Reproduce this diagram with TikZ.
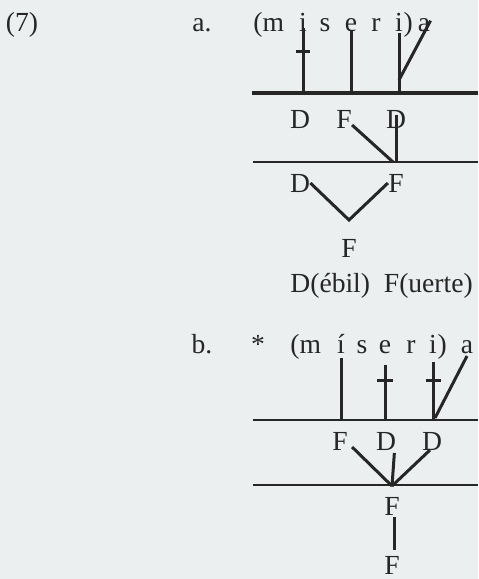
\documentclass[tikz,border=0pt]{standalone}
\usepackage{fontspec}
\setmainfont{Liberation Serif}
\definecolor{pagegray}{RGB}{236,239,239}
\definecolor{ink}{RGB}{38,38,38}
\usetikzlibrary{positioning}

\begin{document}
\begin{tikzpicture}[x=0.5pt,y=-0.5pt,color=ink,
    seg/.style={inner sep=0pt,anchor=base,font=\fontsize{13.8}{16}\selectfont},
    assoc/.style={line width=1.5pt},
    tier/.style={line width=0.9pt}]
  \fill[pagegray] (0,0) rectangle (478,579);
  \useasboundingbox (0,0) rectangle (478,579);
  % numbering
  \node[seg] (ex) at (22,31) {(7)};
  \node[seg] (la) at (202,31) {a.};
  \node[seg] (lb) at (202,353) {b.};
  \node[seg] (star) at (258,353) {*};

  % (a) melody
  \node[seg,anchor=base west] (am) at (253,31) {(m};
  \node[seg] (ai1) at (303,31) {i};
  \node[seg] (as) at (325,31) {s};
  \node[seg] (ae) at (351,31) {e};
  \node[seg] (ar) at (376,31) {r};
  \node[seg] (ai2) at (399,31) {i};
  \node[seg,anchor=base west] (ap) at (ai2.base east) {)};
  \node[seg] (aa) at (424,31) {a};
  \coordinate (ra1l) at (252,93);
  \coordinate (ra1r) at (478,93);
  \draw[line width=1.8pt] (ra1l) -- (ra1r);
  \node[seg] (ad1) at (300,128) {D};
  \node[seg] (af1) at (344,128) {F};
  \node[seg] (ad2) at (396,128) {D};
  \draw[assoc] ([yshift=1.5pt]ai1.base) -- (ai1.base |- ra1l);
  \coordinate (ta) at ([yshift=-10pt]ai1.base);
  \draw[assoc] ([xshift=-3.5pt]ta) -- ([xshift=3.5pt]ta);
  \draw[assoc] (ae.base) -- (ae.base |- ra1l);
  \draw[assoc] ([yshift=-1pt]ai2.base) -- (ai2.base |- ra1l);
  \draw[assoc] ([yshift=-24.5pt]ai2.base) -- ([yshift=-1.5pt]aa.north east);
  \coordinate (ra2l) at (253,162);
  \coordinate (ra2r) at (478,162);
  \draw[tier] (ra2l) -- (ra2r);
  \coordinate (ka) at (393,162);
  \draw[assoc] ([yshift=6.5pt]ad2.base) -- (ad2.base |- ka);
  \draw[assoc] ([yshift=1.5pt]af1.base east) -- (ka);
  \node[seg] (ad3) at (300,192) {D};
  \node[seg] (af3) at (396,192) {F};
  \coordinate (kb) at (349,220);
  \draw[assoc] ([yshift=4.5pt]ad3.base east) -- (kb) -- ([yshift=4.5pt]af3.base west);
  \node[seg] (af4) at (349,257) {F};
  \node[seg,anchor=base west] (gloss) at (290,292) {D(ébil)\hspace{0.5em}F(uerte)};

  % (b) melody
  \node[seg,anchor=base west] (bm) at (290,353) {(m};
  \node[seg] (bi1) at (341,353) {í};
  \node[seg] (bs) at (362,353) {s};
  \node[seg] (be) at (385,353) {e};
  \node[seg] (br) at (411,353) {r};
  \node[seg] (bi2) at (433,353) {i};
  \node[seg,anchor=base west] (bp) at (bi2.base east) {)};
  \node[seg] (ba) at (467,353) {a};
  \coordinate (rb1l) at (253,420);
  \coordinate (rb1r) at (478,420);
  \draw[tier] (rb1l) -- (rb1r);
  \draw[assoc] ([yshift=-2.5pt]bi1.base) -- (bi1.base |- rb1l);
  \draw[assoc] ([yshift=-6pt]be.base) -- (be.base |- rb1l);
  \coordinate (tb1) at ([yshift=-13.5pt]be.base);
  \draw[assoc] ([xshift=-4pt]tb1) -- ([xshift=4pt]tb1);
  \draw[assoc] ([yshift=-4.5pt]bi2.base) -- (bi2.base |- rb1l);
  \coordinate (tb2) at ([yshift=-13.5pt]bi2.base);
  \draw[assoc] ([xshift=-3.75pt]tb2) -- ([xshift=3.75pt]tb2);
  \coordinate (bk) at (435,418);
  \draw[assoc] (bk) -- ([yshift=-1.5pt]ba.base);
  \node[seg] (bf1) at (340,450) {F};
  \node[seg] (bd1) at (386,450) {D};
  \node[seg] (bd2) at (432,450) {D};
  \coordinate (rb2l) at (253,485);
  \coordinate (rb2r) at (478,485);
  \draw[tier] (rb2l) -- (rb2r);
  \coordinate (kc) at (392,486);
  \draw[assoc] ([xshift=2pt,yshift=1.5pt]bf1.base east) -- (kc);
  \draw[assoc] ([xshift=-1pt,yshift=-1.5pt]bd1.base east) -- (kc);
  \draw[assoc] ([xshift=-1pt]bd2.base) -- (kc);
  \node[seg] (bf2) at (392,515) {F};
  \node[seg] (bf3) at (392,574) {F};
  \draw[assoc] ([xshift=1pt,yshift=-1pt]bf2.base) -- ([xshift=1pt,yshift=3pt]bf3.north);
\end{tikzpicture}
\end{document}
